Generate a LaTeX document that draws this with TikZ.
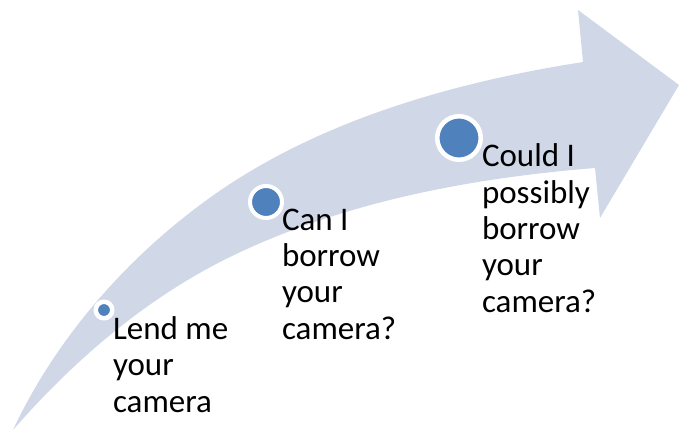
\documentclass[tikz,border=0pt]{standalone}
\usepackage{fontspec}
\setmainfont{Carlito}
\definecolor{arrowfill}{HTML}{D0D8E8}
\definecolor{dotblue}{HTML}{4F81BD}
\tikzset{
  dot/.style={circle, fill=dotblue, draw=white, inner sep=0pt},
  label/.style={anchor=base west, align=left, inner sep=0pt, outer sep=0pt,
    font=\fontsize{33}{36.4}\selectfont, text=black}
}
\begin{document}
\begin{tikzpicture}[x=1pt,y=-1pt]
\useasboundingbox (0,0) rectangle (679,430);
% curved arrow
\fill[arrowfill]
  (13,430) .. controls (54,342) and (122,263) .. (200,205)
  .. controls (309,123) and (449,83) .. (583,62)
  -- (578,10) -- (679,85) -- (600,218) -- (595,168)
  .. controls (471,178) and (342.5,202) .. (230,257)
  .. controls (147,297.5) and (74,360) .. (13,430)
  -- cycle;
% dots
\node[dot, minimum size=16.5pt, line width=4.5pt] (d1) at (104,310) {};
\node[dot, minimum size=32pt, line width=4pt] (d2) at (266,202) {};
\node[dot, minimum size=43.5pt, line width=4.5pt] (d3) at (459,138) {};
% texts (base anchor = baseline of the last line)
\node[label] (t1) at (113,412.1) {Lend me\\your\\camera};
\node[label] (t2) at (282,339.2) {Can I\\borrow\\your\\camera?};
\node[label] (t3) at (482,312.3) {Could I\\possibly\\borrow\\your\\camera?};
\end{tikzpicture}
\end{document}
